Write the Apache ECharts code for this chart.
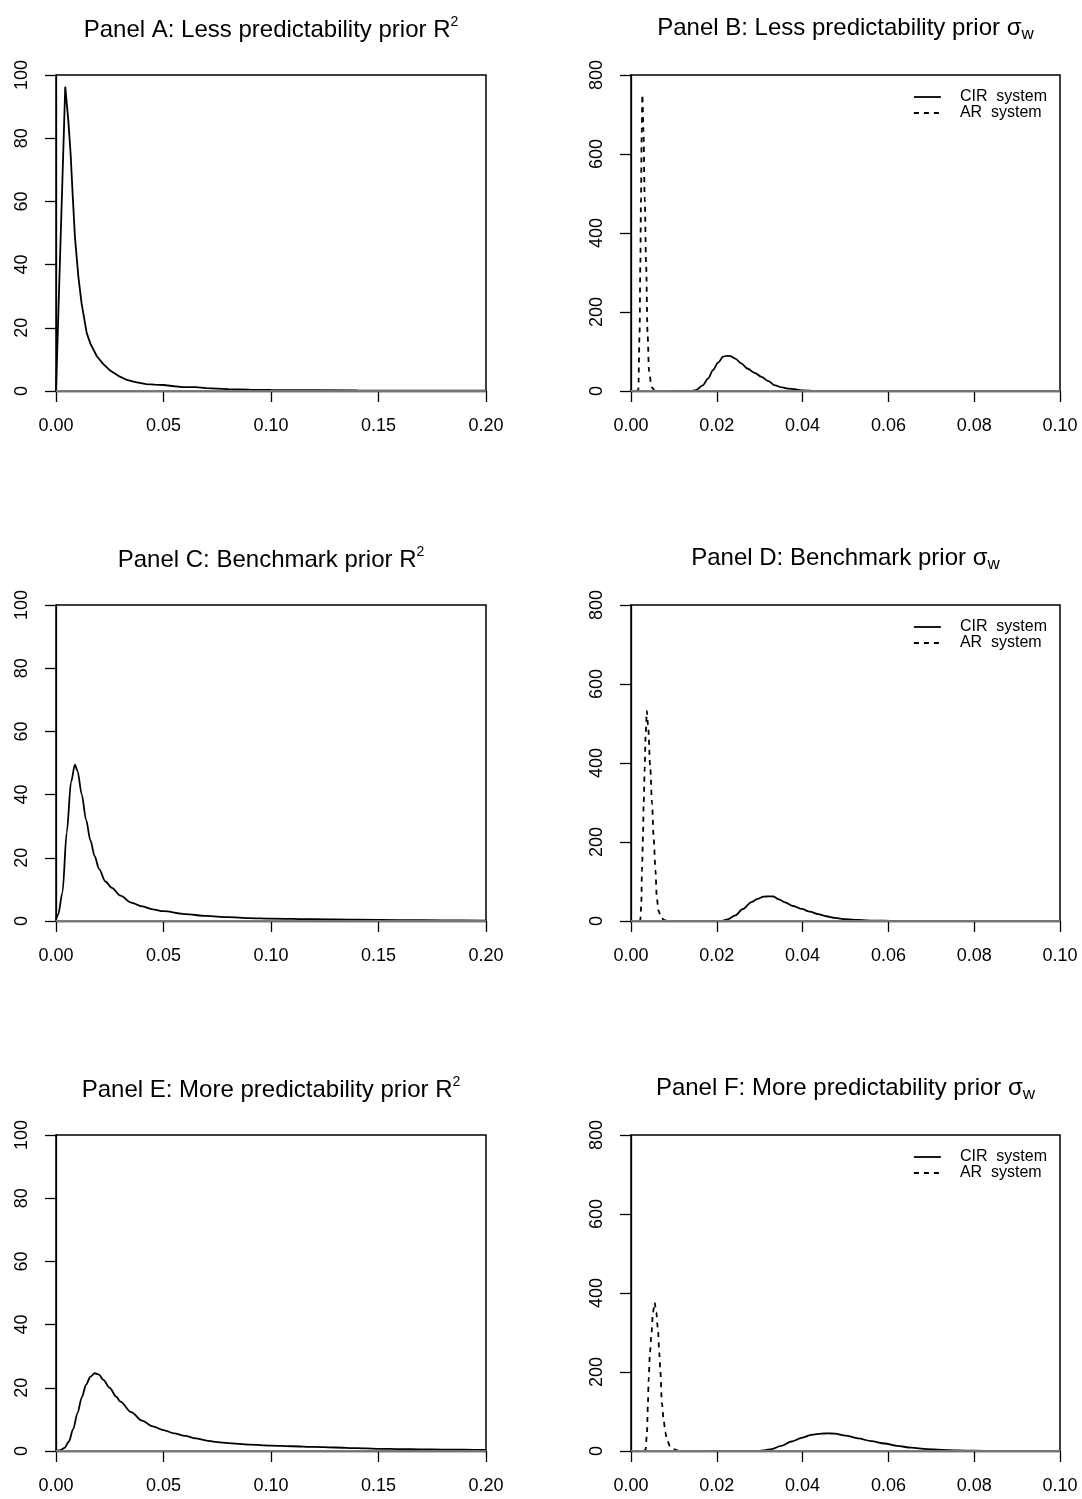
<!DOCTYPE html>
<html>
<head>
<meta charset="utf-8">
<script src="https://cdn.jsdelivr.net/npm/echarts@6/dist/echarts.min.js"></script>
<style>
  html, body { margin: 0; padding: 0; background: #fff; }
  #chart { width: 1082px; height: 1499px; }
</style>
</head>
<body>
<div id="chart"></div>
<script>
// ---------------- data ----------------
const r2Ticks = [0, 0.05, 0.10, 0.15, 0.20];
const sigmaTicks = [0, 0.02, 0.04, 0.06, 0.08, 0.10];

// Panel A: Less predictability prior R^2
const aX = [0, 0.0043, 0.0057, 0.0068, 0.0078, 0.0088, 0.0104, 0.0119, 0.0143, 0.016, 0.019, 0.022, 0.025, 0.029, 0.033, 0.037, 0.042, 0.046, 0.050, 0.055, 0.059, 0.065, 0.070, 0.080, 0.090, 0.100, 0.120, 0.140, 0.160, 0.180, 0.200];
const aY = [0, 96.3, 85.8, 75, 61.5, 48.8, 36.2, 27.7, 18.3, 15, 11, 8.5, 6.6, 4.8, 3.5, 2.8, 2.2, 2.0, 1.9, 1.5, 1.2, 1.2, 0.9, 0.6, 0.45, 0.35, 0.25, 0.18, 0.13, 0.1, 0.08];

// Panel B: Less predictability prior sigma_w
const bCirX = [0.009, 0.014, 0.0151, 0.0167, 0.018, 0.0191, 0.0203, 0.0215, 0.0223, 0.0231, 0.0243, 0.0257, 0.0271, 0.0288, 0.0304, 0.032, 0.0336, 0.0352, 0.0368, 0.040, 0.043, 0.050, 0.060, 0.080, 0.100];
const bCirY = [0, 0, 2, 14, 32, 53, 72, 87, 89, 88.5, 82, 70, 57, 46, 36, 25, 14, 9, 6, 1.7, 0.5, 0, 0, 0, 0];
const bArX = [0.0012, 0.0017, 0.0020, 0.00217, 0.00233, 0.0025, 0.00265, 0.0029, 0.0032, 0.00353, 0.00386, 0.0042, 0.0048, 0.0055, 0.0065, 0.0086];
const bArY = [0, 2, 146, 317, 487, 660, 750, 660, 487, 317, 146, 50, 10, 2, 0, 0];

// Panel C: Benchmark prior R^2
const cX = [0, 0.001, 0.003, 0.005, 0.007, 0.0088, 0.010, 0.012, 0.014, 0.016, 0.018, 0.020, 0.023, 0.026, 0.030, 0.035, 0.040, 0.045, 0.050, 0.060, 0.070, 0.080, 0.090, 0.100, 0.120, 0.140, 0.160, 0.180, 0.200];
const cY = [0.5, 2, 9, 28, 44, 49.5, 47.5, 40, 32, 25.5, 20.5, 16.5, 12.5, 10.5, 8, 5.8, 4.6, 3.7, 3.1, 2.2, 1.6, 1.2, 0.9, 0.75, 0.55, 0.4, 0.3, 0.22, 0.15];

// Panel D: Benchmark prior sigma_w
const dCirX = [0.010, 0.020, 0.0212, 0.0225, 0.0243, 0.026, 0.0281, 0.0295, 0.0309, 0.032, 0.0332, 0.0345, 0.0359, 0.0378, 0.0398, 0.0417, 0.0436, 0.0455, 0.0475, 0.050, 0.053, 0.0567, 0.0607, 0.070, 0.100];
const dCirY = [0, 0, 0.5, 4, 14, 30, 48, 56, 61.5, 62.5, 62, 55, 47, 38, 30.5, 23.5, 17.5, 12, 7.7, 4.5, 2.6, 1, 0.2, 0, 0];
const dArX = [0.0019, 0.00217, 0.0024, 0.00256, 0.0028, 0.00295, 0.0032, 0.0034, 0.0037, 0.0040, 0.0045, 0.0049, 0.00527, 0.0057, 0.0060, 0.0064, 0.0070, 0.0078, 0.0099];
const dArY = [0, 2, 43, 129, 214, 299, 385, 470, 532, 490, 385, 299, 214, 129, 61, 26, 9, 2, 0];

// Panel E: More predictability prior R^2
const eX = [0, 0.002, 0.004, 0.006, 0.008, 0.010, 0.012, 0.014, 0.016, 0.018, 0.020, 0.022, 0.025, 0.028, 0.030, 0.035, 0.040, 0.045, 0.050, 0.055, 0.060, 0.065, 0.070, 0.075, 0.080, 0.090, 0.100, 0.110, 0.120, 0.130, 0.140, 0.150, 0.160, 0.170, 0.180, 0.190, 0.200];
const eY = [0, 0.3, 1, 3, 7, 12, 17, 21, 23.5, 24.6, 24.2, 22.5, 20, 17.2, 15.6, 12.3, 9.6, 7.8, 6.6, 5.6, 4.8, 4.0, 3.3, 2.8, 2.5, 2.0, 1.7, 1.5, 1.3, 1.1, 0.9, 0.7, 0.6, 0.5, 0.45, 0.4, 0.35];

// Panel F: More predictability prior sigma_w
const fCirX = [0.0169, 0.029, 0.0297, 0.0310, 0.0328, 0.035, 0.0374, 0.040, 0.0421, 0.0444, 0.046, 0.0475, 0.050, 0.0529, 0.056, 0.0591, 0.062, 0.0653, 0.069, 0.0723, 0.076, 0.080, 0.085, 0.0878, 0.100];
const fCirY = [0, 0, 0.3, 1.5, 5, 13, 24, 34, 41, 44, 44.5, 44, 39, 32, 25, 19, 13, 8.5, 5, 2.5, 1.4, 0.8, 0.3, 0.1, 0];
const fArX = [0.0030, 0.0034, 0.00372, 0.00395, 0.00411, 0.00442, 0.00473, 0.00512, 0.0055, 0.00589, 0.00628, 0.00659, 0.00682, 0.00721, 0.0076, 0.0080, 0.00837, 0.00915, 0.0099, 0.011, 0.013, 0.0169];
const fArY = [0, 3, 45, 121, 181, 249, 291, 351, 376, 351, 308, 249, 206, 121, 79, 48, 28, 11, 5, 1, 0, 0];

const titles = [
  'Panel A: Less predictability prior R{sup|2}',
  'Panel B: Less predictability prior σ{sub|w}',
  'Panel C: Benchmark prior R{sup|2}',
  'Panel D: Benchmark prior σ{sub|w}',
  'Panel E: More predictability prior R{sup|2}',
  'Panel F: More predictability prior σ{sub|w}'
];
const legendNames = ['CIR  system', 'AR  system'];

// ---------------- layout ----------------
const FONT = "'Liberation Sans', Arial, Helvetica, sans-serif";
const ROW = 530;
const colLeft = [56, 631];
const colWidth = [430, 429];
const gridTop = 75, gridH = 316;
const LW = 1.8;

const grids = [], xAxes = [], yAxes = [], series = [], titleOpts = [], legends = [];

for (let p = 0; p < 6; p++) {
  const row = Math.floor(p / 2), col = p % 2;
  const top = gridTop + row * ROW;
  grids.push({
    left: colLeft[col], top: top, width: colWidth[col], height: gridH,
    show: true, borderColor: '#000', borderWidth: 1.5, backgroundColor: 'transparent',
    containLabel: false
  });
  const isR2 = col === 0;
  const xt = isR2 ? r2Ticks : sigmaTicks;
  xAxes.push({
    type: 'value', gridIndex: p, min: xt[0], max: xt[xt.length - 1],
    interval: xt[1] - xt[0],
    axisLine: { show: true, onZero: false, lineStyle: { color: '#000', width: 1.3 } },
    axisTick: { show: true, inside: false, length: 11, lineStyle: { color: '#000', width: 1.3 } },
    axisLabel: { show: true, margin: 26, fontSize: 18, color: '#000', fontFamily: FONT,
      showMinLabel: true, showMaxLabel: true,
      formatter: v => v.toFixed(2) },
    splitLine: { show: false }
  });
  yAxes.push({
    type: 'value', gridIndex: p, min: 0, max: isR2 ? 100 : 800, interval: isR2 ? 20 : 200,
    axisLine: { show: true, lineStyle: { color: '#000', width: 1.3 } },
    axisTick: { show: true, inside: false, length: 11, lineStyle: { color: '#000', width: 1.3 } },
    axisLabel: { show: true, rotate: 90, margin: 25, fontSize: 18, color: '#000', fontFamily: FONT,
      showMinLabel: true, showMaxLabel: true },
    splitLine: { show: false }
  });
  const cx = colLeft[col] + colWidth[col] / 2;
  titleOpts.push({
    text: titles[p], left: cx, top: (isR2 ? 15 : 13) + row * ROW, textAlign: 'center',
    padding: 0,
    textStyle: {
      fontSize: 24, fontWeight: 'normal', color: '#000', fontFamily: FONT, lineHeight: 30,
      rich: {
        sup: { fontSize: 14, lineHeight: 18, verticalAlign: 'top', color: '#000', fontFamily: FONT },
        sub: { fontSize: 17, lineHeight: 16, verticalAlign: 'bottom', color: '#000', fontFamily: FONT }
      }
    }
  });
  if (!isR2) {
    legends.push({
      orient: 'vertical', left: 913, top: 89 + row * ROW, padding: 0,
      itemWidth: 27, itemHeight: 14, itemGap: 0, selectedMode: false,
      itemStyle: { opacity: 0, borderWidth: 0 },
      lineStyle: { width: LW },
      data: legendNames,
      textStyle: { fontSize: 16, lineHeight: 16, color: '#000', fontFamily: FONT, padding: [0, 0, 0, 14] }
    });
  }
}

const zeroLine = {
  silent: true, symbol: ['none', 'none'], label: { show: false },
  lineStyle: { color: '#9a9a9a', type: 'solid', width: 1.6 },
  data: [{ yAxis: 0 }]
};

function mk(name, xs, ys, idx, dashed, smooth, withZero) {
  const s = {
    type: 'line', name: name, xAxisIndex: idx, yAxisIndex: idx,
    data: xs.map((x, i) => [x, ys[i]]),
    symbol: 'none', showSymbol: false, smooth: smooth, smoothMonotone: 'x',
    lineStyle: { color: '#000', width: LW, type: dashed ? [5, 5] : 'solid' },
    itemStyle: { color: '#000' },
    emphasis: { disabled: true }, z: 3
  };
  if (withZero) s.markLine = zeroLine;
  return s;
}

series.push(mk('A', aX, aY, 0, false, false, true));
series.push(mk(legendNames[0], bCirX, bCirY, 1, false, 0.3, true));
series.push(mk(legendNames[1], bArX, bArY, 1, true, 0.3, false));
series.push(mk('C', cX, cY, 2, false, 0.3, true));
series.push(mk(legendNames[0], dCirX, dCirY, 3, false, 0.3, true));
series.push(mk(legendNames[1], dArX, dArY, 3, true, 0.3, false));
series.push(mk('E', eX, eY, 4, false, 0.3, true));
series.push(mk(legendNames[0], fCirX, fCirY, 5, false, 0.3, true));
series.push(mk(legendNames[1], fArX, fArY, 5, true, 0.3, false));

const chart = echarts.init(document.getElementById('chart'), null, { renderer: 'canvas' });
chart.setOption({
  animation: false,
  backgroundColor: '#fff',
  textStyle: { fontFamily: FONT },
  title: titleOpts,
  legend: legends,
  grid: grids,
  xAxis: xAxes,
  yAxis: yAxes,
  series: series
});
</script>
</body>
</html>
